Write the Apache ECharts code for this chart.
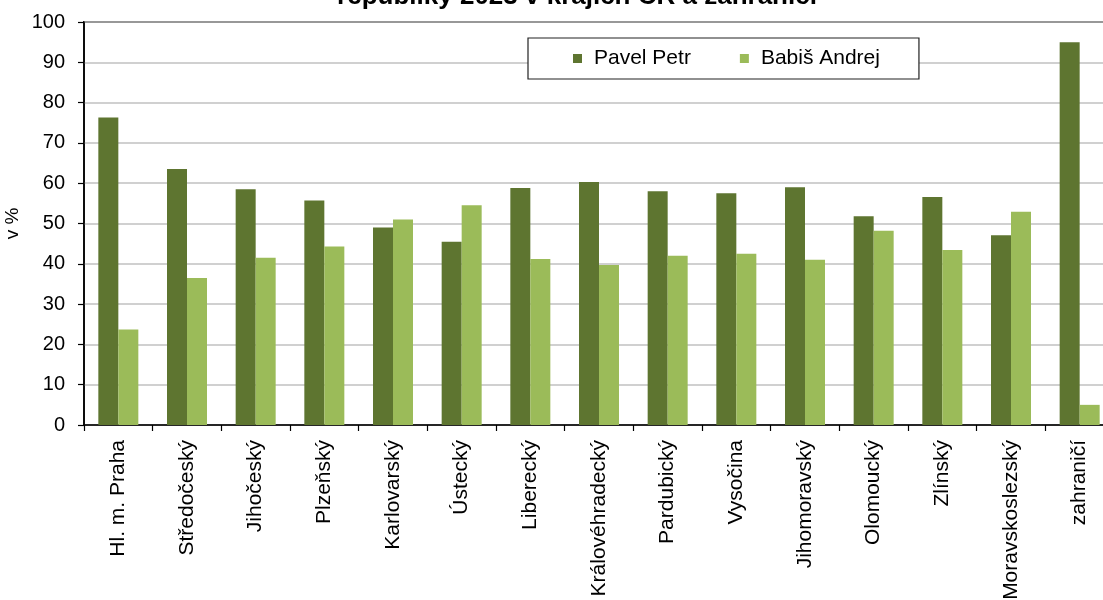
<!DOCTYPE html>
<html>
<head>
<meta charset="utf-8">
<script src="https://cdn.jsdelivr.net/npm/echarts@6/dist/echarts.min.js"></script>
<style>
html,body{margin:0;padding:0;background:#fff;}
#chart{width:1103px;height:600px;}
</style>
</head>
<body>
<div id="chart"></div>
<script>
const categories = ["Hl. m. Praha","Středočeský","Jihočeský","Plzeňský","Karlovarský","Ústecký","Liberecký","Královéhradecký","Pardubický","Vysočina","Jihomoravský","Olomoucký","Zlínský","Moravskoslezský","zahraničí"];
const pavelPetr = [76.3,63.5,58.5,55.7,49.0,45.5,58.8,60.3,58.0,57.5,59.0,51.8,56.6,47.1,95.0];
const babisAndrej = [23.7,36.5,41.5,44.3,51.0,54.5,41.2,39.7,42.0,42.5,41.0,48.2,43.4,52.9,5.0];
const yTicks = {min:0, max:100, interval:10};
const titleText = "republiky 2023 v krajích ČR a zahraničí";

const font = "Liberation Sans, Arial, sans-serif";
const chart = echarts.init(document.getElementById('chart'));
chart.setOption({
  backgroundColor:'#fff',
  animation:false,
  textStyle:{fontFamily:font},
  title:{
    text:titleText, left:572, textAlign:'center', top:-21,
    textStyle:{fontFamily:font, fontSize:26, fontWeight:'bold', color:'#000'}
  },
  legend:{
    left:528, top:38,
    icon:'rect', itemWidth:9, itemHeight:9, itemGap:49,
    padding:[10,39,10,45],
    borderColor:'#222', borderWidth:1.2, backgroundColor:'#fff',
    textStyle:{fontFamily:font, fontSize:21, color:'#000', padding:[0,0,0,7]},
    data:['Pavel Petr','Babiš Andrej']
  },
  grid:{
    left:84, top:22, width:1030, bottom:175,
    outerBoundsMode:'none',
    containLabel:false,
    show:true, borderColor:'#222', borderWidth:1.8, backgroundColor:'transparent'
  },
  xAxis:{
    type:'category', data:categories,
    axisLine:{lineStyle:{color:'#000', width:1.5}},
    axisTick:{show:true, length:6, lineStyle:{color:'#000', width:1.2}},
    axisLabel:{rotate:90, interval:0, margin:15, fontFamily:font, fontSize:21, color:'#000'}
  },
  yAxis:{
    type:'value', min:yTicks.min, max:yTicks.max, interval:yTicks.interval,
    name:'v %', nameLocation:'middle', nameRotate:90, nameGap:62,
    nameMoveOverlap:false,
    nameTextStyle:{fontFamily:font, fontSize:19, color:'#000'},
    axisLine:{show:true, lineStyle:{color:'#000', width:1.5}},
    axisTick:{show:true, length:6, lineStyle:{color:'#000', width:1.2}},
    axisLabel:{fontFamily:font, fontSize:20, color:'#000', margin:19},
    splitLine:{lineStyle:{color:'#c0c0c0', width:1.5}}
  },
  series:[
    {name:'Pavel Petr', type:'bar', data:pavelPetr, barWidth:20, barGap:'0%',
     itemStyle:{color:'#5E7530'}},
    {name:'Babiš Andrej', type:'bar', data:babisAndrej, barWidth:20,
     itemStyle:{color:'#9BBB59'}}
  ]
});
</script>
</body>
</html>
